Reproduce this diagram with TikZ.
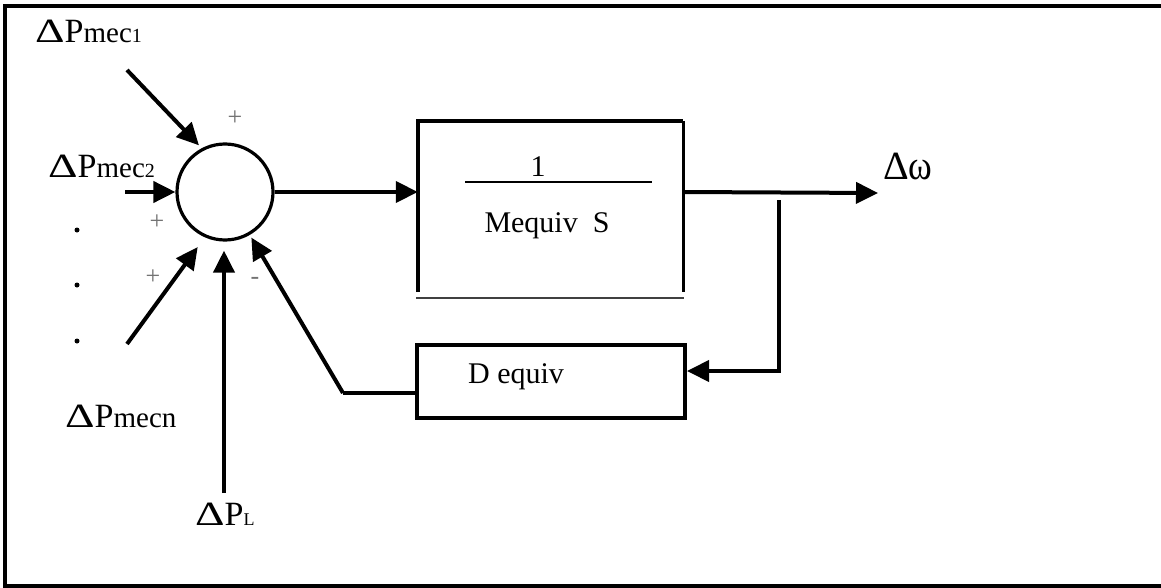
\documentclass[tikz,border=0pt]{standalone}
\usepackage{fontspec}
\setmainfont{Liberation Serif}
\usetikzlibrary{arrows.meta}

% wide Delta used in all the power labels
\newcommand\wideDelta{\scalebox{1.35}[1]{Δ}}
% power signal label: Delta P, lowercase tag, small index
\newcommand\powlabel[2]{{\fontsize{34}{36}\selectfont\wideDelta P}{\fontsize{29}{32}\selectfont #1}{\fontsize{20}{24}\selectfont #2}}

\tikzset{
  sig/.style={line width=4pt, -{Triangle[length=22pt,width=21pt]}},
  wire/.style={line width=4pt},
  boxtext/.style={font=\fontsize{30}{34}\selectfont, inner sep=0pt},
  signtext/.style={font=\fontsize{26}{30}\selectfont, text=black!55, inner sep=0pt},
  lbl/.style={inner sep=0pt, anchor=base west},
  dotmark/.style={circle, fill=black, inner sep=0pt, minimum size=5pt},
}

\begin{document}
\begin{tikzpicture}[x=1pt, y=-1pt]
\useasboundingbox (0,0) rectangle (1161,588);

% outer frame, open on the right
\draw[line width=3.4pt] (1161,6) -- (5,6) -- (5,586) -- (1161,586);

% summing junction
\node[circle, draw, line width=3.2pt, minimum size=96pt, inner sep=0pt] (sum) at (225,192) {};

% plant block 1/(Mequiv S)
\node[minimum width=265pt, minimum height=171pt, inner sep=0pt] (G) at (550.5,206.5) {};
\draw[line width=4pt] (G.south west) -- (G.north west) -- (G.north east);
\draw[line width=3pt] (G.north east) -- (G.south east);
\draw[line width=2.4pt, black!75] (416,298) -- (684,298);
\node[boxtext, anchor=base] (num) at (538,177) {1};
\draw[line width=1.8pt] (465,182) -- (652,182);
\node[boxtext, anchor=base] (den) at (547,232) {Mequiv\ \ S};

% damping block
\node[draw, line width=4pt, minimum width=268pt, minimum height=73pt, inner sep=0pt] (D) at (551,381.5) {};
\node[boxtext, anchor=base] (dtext) at (516,383) {D equiv};

% signal end points
\coordinate (m1) at (127,70);
\coordinate (m2) at (125,192);
\coordinate (mn) at (127,344);
\coordinate (pl) at (224,493);
\coordinate (out) at (878,193);
\coordinate (br) at (779,200);
\coordinate (fbk) at (343,393);

% inputs into the junction
\draw[sig, shorten >=4pt] (m1) -- (sum.118);
\draw[sig] (m2) -- (sum.west);
\draw[sig, shorten >=12pt] (mn) -- (sum.246);
\draw[sig, shorten >=9pt] (pl) -- (pl |- sum.south);

% forward path
\draw[sig] (sum.east) -- (sum.east -| G.west);
\draw[sig] (sum.east -| G.east) -- (out);

% feedback path
\draw[sig] (br) |- ([yshift=10.5pt]D.east);
\draw[wire] ([yshift=-11.5pt]D.west) -- (fbk);
\draw[sig, shorten >=3pt] (fbk) -- (sum.-60);

% labels
\node[lbl] (lm1) at (35,43) {\powlabel{mec}{1}};
\node[lbl] (lm2) at (48,178) {\powlabel{mec}{2}};
\node[lbl] (lmn) at (65,427) {\powlabel{mecn}{}};
\node[lbl] (lpl) at (195,525) {{\fontsize{34}{36}\selectfont\wideDelta P}{\fontsize{18}{20}\selectfont L}};
\node[lbl] (lw) at (883,179) {{\fontsize{40}{42}\selectfont Δ}{\fontsize{36}{38}\selectfont\scalebox{1}[1.15]{ω}}};

% signs at the junction
\node[signtext] (s1) at (235,118) {+};
\node[signtext] (s2) at (157,222) {+};
\node[signtext] (s3) at (153,277) {+};
\node[signtext] (s4) at (255,281) {-};

% ellipsis dots for further inputs
\node[dotmark] (d1) at (77,230) {};
\node[dotmark] (d2) at (77,285) {};
\node[dotmark] (d3) at (77,341) {};
\end{tikzpicture}
\end{document}
